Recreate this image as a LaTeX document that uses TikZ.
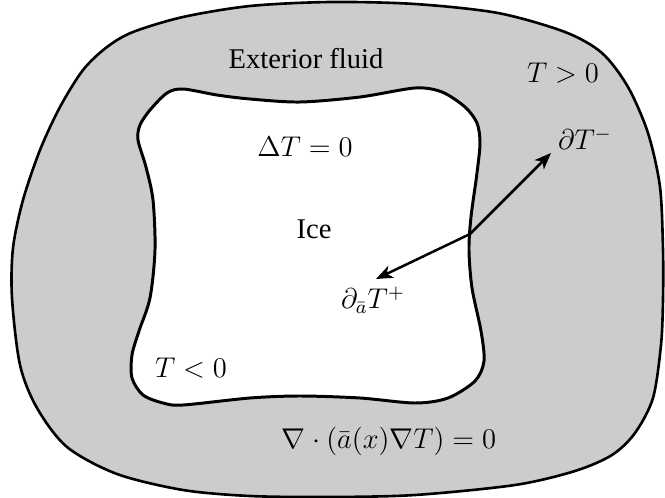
\documentclass[tikz,border=0pt]{standalone}
\usepackage[no-math]{fontspec}
\setmainfont{Liberation Serif}
\usetikzlibrary{arrows.meta}
\definecolor{fluid}{RGB}{204,204,204}
\tikzset{
  lbl/.style={inner sep=0pt, font=\fontsize{12}{14}\selectfont},
  conn/.style={line width=1.05pt, -{Stealth[length=7pt,width=5.5pt,inset=2pt]}},
}
\begin{document}
\begin{tikzpicture}[x=0.42pt,y=-0.42pt]
\useasboundingbox (0,0) rectangle (665,498);
% outer region
\draw[line width=1.1pt, fill=fluid] plot[smooth cycle, tension=0.5] coordinates {
 (330,2) (415,4) (498,13) (565,32) (602,53) (628,87) (648,133) (660,187)
 (663,250) (663,300) (661,345) (653,398) (635,433) (612,455) (575,471)
 (515,485) (415,495) (330,497) (250,496) (183,490) (117,474) (67,447)
 (37,408) (20,365) (12,298) (13,248) (23,200) (40,150) (60,107) (83,70)
 (107,47) (133,32) (183,17) (250,6)};
% inner region (ice)
\draw[line width=1.25pt, fill=white] plot[smooth cycle, tension=0.5] coordinates {
 (183,89) (217,95) (250,99) (300,102) (360,97) (415,88) (442,92) (465,107)
 (477,123) (480,143) (477,173) (471,217) (469,250) (472,288) (481,331)
 (484,361) (475,381) (448,398) (415,403) (360,398) (300,396) (250,398)
 (183,405) (163,403) (143,395) (132,378) (132,355) (139,331) (150,298)
 (155,250) (153,200) (146,167) (138,140) (140,125) (150,110) (167,93)};
% labels
\node[lbl] (ext) at (306,59) {Exterior fluid};
\node[lbl] (tpos) at (563,73) {$T>0$};
\node[lbl] (dtm) at (585,139) {$\partial T^{-}$};
\node[lbl] (lap) at (305,147) {$\Delta T=0$};
\node[lbl] (ice) at (314,229) {Ice};
\node[lbl] (dtp) at (373,300) {$\partial_{\bar a}T^{+}$};
\node[lbl] (tneg) at (191,368) {$T<0$};
\node[lbl] (eq) at (389,441) {$\nabla\cdot(\bar a(x)\nabla T)=0$};
% connectors
\coordinate (j) at (470,234);
\coordinate (up) at (551,153);
\coordinate (dn) at (376,279);
\draw[conn] (j) -- (up);
\draw[conn] (j) -- (dn);
\end{tikzpicture}
\end{document}
